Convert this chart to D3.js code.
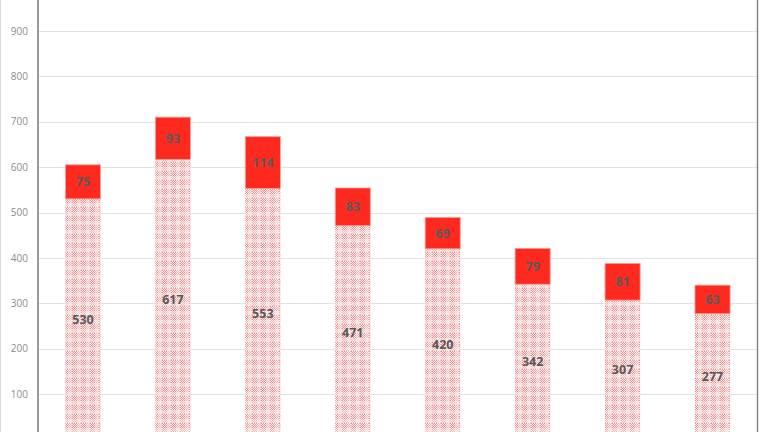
<!DOCTYPE html>
<html>
<head>
<meta charset="utf-8">
<script src="https://cdn.jsdelivr.net/npm/d3@7"></script>
<style>
  body { margin: 0; background: #fff; }
  svg { display: block; }
</style>
</head>
<body>
<svg id="chart" width="768" height="432"></svg>
<script>
const categories = ['A', 'B', 'C', 'D', 'E', 'F', 'G', 'H'];
const baseValues = [530, 617, 553, 471, 420, 342, 307, 277];
const topValues  = [75, 93, 114, 83, 69, 79, 81, 63];
const yTicks = [100, 200, 300, 400, 500, 600, 700, 800, 900];

const svg = d3.select('#chart');
const W = 768;
const H = 432;
const left = 38;
const right = 757.5;

const x = d3.scaleBand()
  .domain(categories)
  .range([left, right])
  .paddingInner(0.61)
  .paddingOuter(0.305);

const y = d3.scaleLinear()
  .domain([0, 1000])
  .range([439.5, -14.5]);

// plaid-ish dotted pattern for the lower segment
const T = 9;
const defs = svg.append('defs');
const pat = defs.append('pattern')
  .attr('id', 'dots')
  .attr('patternUnits', 'userSpaceOnUse')
  .attr('width', T)
  .attr('height', T);
pat.append('rect').attr('width', T).attr('height', T).attr('fill', '#fef1f1');
const shade = ['#fcd9d9', '#f9b4b4', '#f58a8a'];
for (let r = 0; r < T; r++) {
  for (let c = 0; c < T; c++) {
    if ((r + c) % 2) continue;
    const lvl = (r < 5 ? 1 : 0) + (c < 5 ? 1 : 0);
    pat.append('rect')
      .attr('x', c).attr('y', r)
      .attr('width', 1).attr('height', 1)
      .attr('fill', shade[lvl]);
  }
}

// gridlines
svg.append('g')
  .selectAll('line')
  .data(yTicks)
  .enter()
  .append('line')
  .attr('x1', left)
  .attr('x2', right)
  .attr('y1', d => Math.round(y(d)) + 0.5)
  .attr('y2', d => Math.round(y(d)) + 0.5)
  .attr('stroke', '#e3e3e3')
  .attr('stroke-width', 1);

// y axis
const axis = svg.append('g')
  .attr('transform', `translate(${left},0)`)
  .call(d3.axisLeft(y).tickValues(yTicks).tickSize(0).tickPadding(10));
axis.select('.domain').remove();
axis.selectAll('text')
  .attr('fill', '#8c8c8c')
  .style('font-family', 'Open Sans, sans-serif')
  .style('font-size', '10px');

// frame lines
svg.append('line')
  .attr('x1', 0.5).attr('x2', 0.5).attr('y1', 0).attr('y2', H)
  .attr('stroke', '#dcdcdc');
svg.append('line')
  .attr('x1', left).attr('x2', left).attr('y1', 0).attr('y2', H)
  .attr('stroke', '#808080').attr('stroke-width', 1.6);
svg.append('line')
  .attr('x1', right).attr('x2', right).attr('y1', 0).attr('y2', H)
  .attr('stroke', '#808080').attr('stroke-width', 1.4);

const data = categories.map((c, i) => ({ c, base: baseValues[i], top: topValues[i] }));

const bars = svg.append('g')
  .selectAll('g')
  .data(data)
  .enter()
  .append('g');

bars.append('rect')
  .attr('x', d => x(d.c))
  .attr('width', x.bandwidth())
  .attr('y', d => y(d.base))
  .attr('height', d => y(0) - y(d.base))
  .attr('fill', 'url(#dots)');

bars.append('rect')
  .attr('x', d => x(d.c))
  .attr('width', x.bandwidth())
  .attr('y', d => y(d.base + d.top))
  .attr('height', d => y(d.base) - y(d.base + d.top))
  .attr('fill', '#ff2a1f')
  .attr('stroke', '#ff9c96')
  .attr('stroke-width', 0.8);

const labelStyle = sel => sel
  .attr('text-anchor', 'middle')
  .attr('dominant-baseline', 'central')
  .attr('fill', '#595959')
  .style('font-family', 'Open Sans, sans-serif')
  .style('font-size', '12.5px')
  .style('font-weight', 700);

bars.append('text')
  .attr('x', d => x(d.c) + x.bandwidth() / 2)
  .attr('y', d => y(d.base / 2))
  .text(d => d.base)
  .call(labelStyle);

bars.append('text')
  .attr('x', d => x(d.c) + x.bandwidth() / 2)
  .attr('y', d => y(d.base + d.top / 2))
  .text(d => d.top)
  .call(labelStyle);
</script>
</body>
</html>
